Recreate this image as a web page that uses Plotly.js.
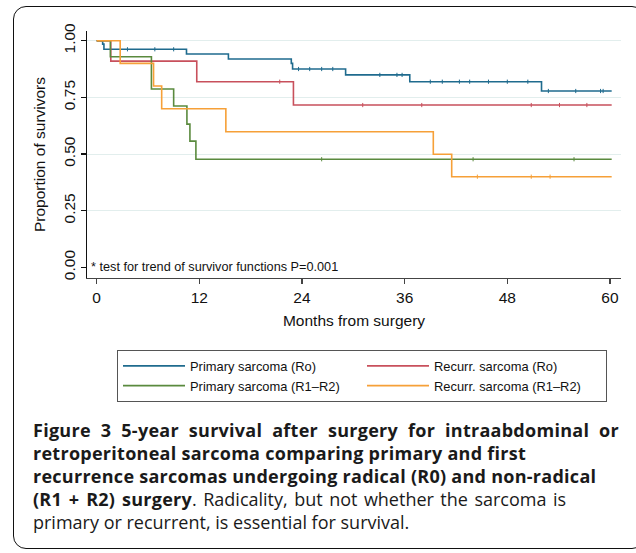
<!DOCTYPE html>
<html>
<head>
<meta charset="utf-8">
<script src="https://cdn.plot.ly/plotly-3.0.1.min.js"></script>
<style>
  html, body { margin: 0; padding: 0; background: #fff; overflow: hidden; }
  #wrap { position: relative; width: 636px; height: 553px; }
  #chart { position: absolute; left: 0; top: 0; width: 636px; height: 553px; }
  #frame { position: absolute; left: 13px; top: 6px; width: 632px; height: 543px;
           border: 1.6px solid #111; border-radius: 13px; box-sizing: border-box;
           pointer-events: none; }
</style>
</head>
<body>
<div id="wrap">
  <div id="chart"></div>
  <div id="frame"></div>
</div>
<script>
// ---- Data (Kaplan-Meier step points) ----
const seriesNames = ["Primary sarcoma (Ro)", "Recurr. sarcoma (Ro)", "Primary sarcoma (R1\u2013R2)", "Recurr. sarcoma (R1\u2013R2)"];

const primaryR0Time = [0, 0.7, 0.85, 10.5, 15.4, 22.75, 22.9, 29.1, 36.6, 52.0, 60.2];
const primaryR0Surv = [1, 0.985, 0.962, 0.941, 0.919, 0.900, 0.875, 0.849, 0.819, 0.778, 0.778];

const recurrR0Time = [0, 1.65, 11.7, 23.0, 60.2];
const recurrR0Surv = [1, 0.910, 0.819, 0.716, 0.716];

const primaryR12Time = [0, 1.6, 6.4, 9.0, 10.55, 10.9, 11.6, 60.2];
const primaryR12Surv = [1, 0.929, 0.787, 0.712, 0.632, 0.557, 0.477, 0.477];

const recurrR12Time = [0, 2.75, 6.65, 7.6, 15.1, 39.35, 41.5, 60.2];
const recurrR12Surv = [1, 0.90, 0.80, 0.70, 0.598, 0.499, 0.40, 0.40];

// censoring times (small vertical ticks on the curves)
const primaryR0Censor = [3.6, 6.8, 9.0, 23.6, 24.9, 26.3, 27.6, 33.1, 35.1, 35.7, 39.0, 40.4, 42.4, 43.6, 45.8, 48.0, 50.4, 52.8, 56.0, 58.9, 59.2];
const recurrR0Censor = [21.4, 31.1, 38.0, 50.8, 54.1, 57.3];
const primaryR12Censor = [26.3, 44.0, 55.8];
const recurrR12Censor = [44.5, 50.8, 53.0];

const xTickVals = [0, 12, 24, 36, 48, 60];
const yTickVals = [0, 0.25, 0.5, 0.75, 1];
const yGridVals = [0.25, 0.5, 0.75, 1];

const annotationText = "* test for trend of survivor functions P=0.001";
const captionBold = [
  "Figure 3 5-year survival after surgery for intraabdominal or",
  "retroperitoneal sarcoma comparing primary and first",
  "recurrence sarcomas undergoing radical (R0) and non-radical",
  "(R1 + R2) surgery",
  ""
];
const captionRegular = [
  "",
  "",
  "",
  ". Radicality, but not whether the sarcoma is",
  "primary or recurrent, is essential for survival."
];

// ---- styling ----
const colors = ["#1f6b8e", "#c8505c", "#5a8a3e", "#f6a038"];
const W = 636, H = 553;
const M = { l: 87, r: 15, t: 31, b: 275 };
const PW = W - M.l - M.r, PH = H - M.t - M.b;
const px2paperX = px => (px - M.l) / PW;
const px2paperY = py => (H - M.b - py) / PH;

function stepLookup(times, surv, t) {
  let v = surv[0];
  for (let i = 0; i < times.length; i++) { if (times[i] <= t) v = surv[i]; }
  return v;
}

const curves = [
  [primaryR0Time, primaryR0Surv, primaryR0Censor],
  [recurrR0Time, recurrR0Surv, recurrR0Censor],
  [primaryR12Time, primaryR12Surv, primaryR12Censor],
  [recurrR12Time, recurrR12Surv, recurrR12Censor]
];

const traces = [];
curves.forEach((c, i) => {
  traces.push({
    type: "scatter", mode: "lines", x: c[0], y: c[1], name: seriesNames[i],
    line: { shape: "hv", color: colors[i], width: 1.6 }, hoverinfo: "x+y+name"
  });
});
curves.forEach((c, i) => {
  traces.push({
    type: "scatter", mode: "markers", x: c[2], y: c[2].map(t => stepLookup(c[0], c[1], t)),
    showlegend: false, hoverinfo: "skip",
    marker: { symbol: "line-ns", size: 3, line: { color: colors[i], width: 1 } }
  });
});
// hidden trace for gridline axis
traces.push({ type: "scatter", mode: "lines", x: [0], y: [0], yaxis: "y2", showlegend: false, hoverinfo: "skip", line: { width: 0 } });

const annotations = [{
  xref: "paper", yref: "y", x: px2paperX(89), y: 0, xanchor: "left", yanchor: "middle",
  text: annotationText, showarrow: false, font: { family: "Liberation Sans, Arial, sans-serif", size: 12.7, color: "#111" }
}];
const captionY = [429.5, 452.5, 475.5, 498.5, 521.5];
const captionWordSpacing = [5, 0, 0, 1.8, 0];
captionBold.forEach((b, i) => {
  const ws = "word-spacing:" + captionWordSpacing[i] + "px;";
  let t = "";
  if (b) t += '<b><span style="letter-spacing:0.27px;' + ws + '">' + b + '</span></b>';
  if (captionRegular[i]) t += '<span style="' + ws + '">' + captionRegular[i] + '</span>';
  annotations.push({
    xref: "paper", yref: "paper", x: px2paperX(31), y: px2paperY(captionY[i]),
    xanchor: "left", yanchor: "middle", showarrow: false, align: "left",
    text: t, font: { family: "Open Sans, sans-serif", size: 18, color: "#1a1a1a" }
  });
});

const axisFont = { family: "Liberation Sans, Arial, sans-serif", size: 15.5, color: "#111" };

const layout = {
  width: W, height: H, margin: M,
  paper_bgcolor: "#fff", plot_bgcolor: "#fff",
  showlegend: true,
  xaxis: {
    range: [-1.13, 61.29], tickvals: xTickVals, ticktext: xTickVals.map(String),
    showgrid: false, zeroline: false, showline: true, linecolor: "#444", linewidth: 1.2,
    ticks: "outside", ticklen: 5, tickcolor: "#444", tickwidth: 1.2, tickfont: axisFont,
    title: { text: "Months from surgery", font: axisFont, standoff: 10 }
  },
  yaxis: {
    range: [-0.047, 1.0427], tickvals: yTickVals, ticktext: yTickVals.map(v => v.toFixed(2)),
    showgrid: false, zeroline: false, showline: true, linecolor: "#111", linewidth: 1.2,
    ticks: "outside", ticklen: 5, tickcolor: "#111", tickwidth: 1.2, tickfont: axisFont, tickangle: -90,
    title: { text: "Proportion of survivors", font: axisFont, standoff: 11 }
  },
  yaxis2: {
    overlaying: "y", range: [-0.047, 1.0427], tickvals: yGridVals, showticklabels: false,
    showgrid: true, gridcolor: "#e2eeed", gridwidth: 1, zeroline: false, showline: false, ticks: ""
  },
  legend: {
    orientation: "h", x: px2paperX(117), y: px2paperY(350), xanchor: "left", yanchor: "top",
    bgcolor: "#fff", bordercolor: "#555", borderwidth: 1,
    font: { family: "Liberation Sans, Arial, sans-serif", size: 12.9, color: "#111" },
    entrywidth: 167, entrywidthmode: "pixels", itemwidth: 62, tracegroupgap: 0
  },
  annotations: annotations
};

Plotly.newPlot("chart", traces, layout, { displayModeBar: false, staticPlot: true });
</script>
</body>
</html>
